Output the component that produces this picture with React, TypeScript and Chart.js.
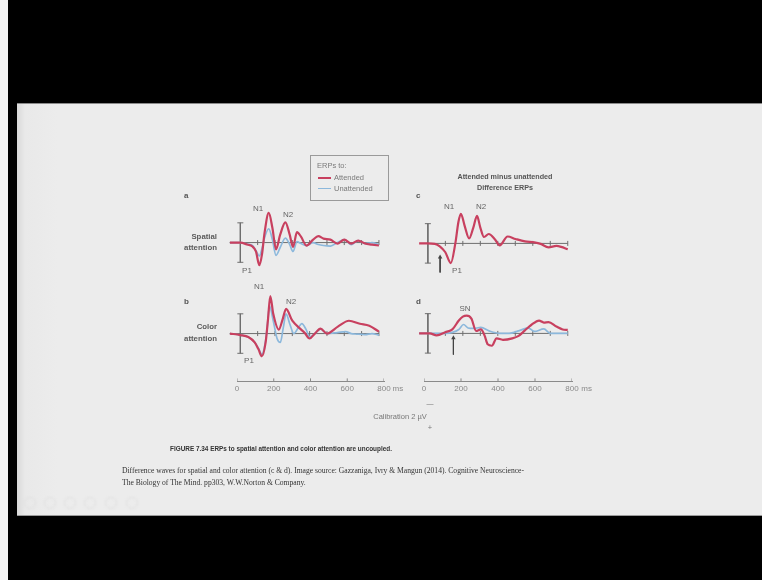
import React, { useEffect, useRef } from "react";
import { Chart, registerables } from "chart.js";
Chart.register(...registerables);

// ---------------- data (ms, µV; negative plotted upward) ----------------
const timesA = [-60, 0, 40, 70, 90, 110, 125, 140, 164, 185, 206, 230, 260, 285, 304, 327, 350, 382, 420, 450, 480, 520, 560, 600, 640, 680, 720, 760, 800];
const spatialAttended = [0, 0, 0.2, 0.4, 0.9, 2.3, 1.2, -1.0, -3.0, -1.5, 0.7, -0.8, -2.05, -0.8, 0.45, -1.05, -0.6, 0.3, -0.3, -0.65, -0.4, -0.3, 0.1, -0.3, 0.1, -0.2, 0.1, 0.2, 0.3];
const spatialUnattended = [0, 0, 0.15, 0.3, 0.8, 1.35, 0.6, -0.5, -1.4, -0.3, 1.3, 0.5, -0.45, 0.2, 0.9, -0.1, 0.1, 0.3, 0.0, 0.2, 0.3, 0.35, 0.0, -0.3, 0.2, -0.2, 0.1, 0.0, 0.2];

const timesB = [-60, 0, 46, 83, 105, 124, 146, 160, 173, 190, 222, 245, 264, 300, 345, 370, 400, 430, 463, 500, 563, 627, 690, 744, 800];
const colorAttended = [0, 0.15, 0.35, 0.9, 1.6, 2.3, 0.9, -1.5, -3.8, -2.0, -0.4, -1.5, -2.5, -1.3, -0.5, -0.1, 0.5, 0.0, -0.5, 0.0, -0.7, -1.3, -1.0, -0.8, -0.2];
const timesBU = [-60, 0, 46, 83, 105, 124, 146, 155, 168, 190, 212, 231, 248, 264, 285, 309, 335, 355, 380, 400, 430, 463, 500, 560, 607, 640, 672, 720, 760, 800];
const colorUnattended = [0, 0.15, 0.35, 0.9, 1.5, 2.1, 0.7, -0.6, -2.8, -1.3, 0.5, 0.9, -0.6, -2.0, -1.0, 0.0, -0.6, -1.0, -0.4, 0.35, 0.0, -0.45, 0.0, -0.1, -0.2, 0.0, 0.05, 0.1, 0.0, 0.15];

const timesC = [-50, 0, 40, 68, 100, 131, 157, 175, 189, 210, 236, 260, 281, 300, 321, 348, 384, 411, 456, 501, 555, 609, 645, 690, 735, 762, 800];
const spatialDifference = [0, 0, 0.05, 0.3, 0.9, 2.0, 0, -2.2, -3.0, -1.8, -0.5, -1.6, -2.8, -1.6, -0.65, -0.95, -0.4, 0.2, -0.7, -0.45, -0.2, -0.1, 0.05, 0.4, 0.26, 0.35, 0.6];

const timesDA = [-50, 11, 50, 104, 140, 177, 200, 222, 249, 276, 303, 324, 342, 366, 393, 429, 483, 519, 555, 591, 636, 663, 690, 735, 771, 800];
const colorDifference = [0, 0, 0.2, -0.15, -0.4, -1.3, -1.7, -1.8, -1.5, -0.25, -0.4, 0.2, 1.1, 1.25, 0.5, 0.65, 0.5, 0.25, -0.3, -0.85, -1.3, -1.1, -1.15, -0.7, -0.4, -0.35];
const timesDU = [-50, 11, 104, 140, 177, 204, 230, 260, 303, 350, 411, 465, 519, 573, 610, 663, 700, 750, 800];
const colorDifferenceBlue = [0, 0, 0, -0.1, -0.4, -0.9, -0.55, -0.5, -0.6, -0.25, 0, 0, -0.25, -0.55, -0.2, -0.45, 0, 0, 0];

const baselineTicks = [100, 200, 300, 400, 500, 600, 700, 800];
const axisTicks = [0, 200, 400, 600, 800];
const calibration = [-2, 2];

// ---------------- styling / layout ----------------
const RED = "#c8405f";
const BLUE = "#8cb8dc";
const GRAY = "#6e6e6e";
const PX_UV = 11;
const SANS = "'Liberation Sans', Arial, sans-serif";
const SERIF = "'Liberation Serif', 'Times New Roman', serif";
const TOOLBAR_X = [30, 50, 70, 90, 111, 132];

type Series = { t: number[]; v: number[]; color: string; width: number };

function Panel(props: {
  x0: number; y0: number; pxMs: number; series: Series[]; baseStart: number;
  arrowT?: number; arrowV?: number[];
}) {
  const ref = useRef<HTMLCanvasElement>(null);
  useEffect(() => {
    const { x0, y0, pxMs, series, baseStart, arrowT, arrowV } = props;
    const canvas = ref.current!;
    const left = Math.round(x0 - 110 * pxMs);
    const width = Math.round(950 * pxMs);
    const xMin = (left - x0) / pxMs;
    const xMax = xMin + width / pxMs;
    const top = Math.round(y0 - 5.2 * PX_UV);
    const height = Math.round(8.8 * PX_UV);
    const yMin = (top - y0) / PX_UV;
    const yMax = yMin + height / PX_UV;
    canvas.width = width; canvas.height = height;
    canvas.style.left = left + "px"; canvas.style.top = top + "px";
    canvas.style.width = width + "px"; canvas.style.height = height + "px";

    const datasets: any[] = series.map((s) => ({
      data: s.t.map((t, i) => ({ x: t, y: s.v[i] })),
      borderColor: s.color, borderWidth: s.width, pointRadius: 0,
      cubicInterpolationMode: "monotone", fill: false,
    }));
    if (arrowT !== undefined && arrowV) {
      datasets.push({
        data: [{ x: arrowT, y: arrowV[0] }, { x: arrowT, y: arrowV[1] }],
        borderColor: "#444", borderWidth: 1, pointStyle: "triangle",
        pointRadius: [2.6, 0], pointBackgroundColor: "#444", pointBorderColor: "#444", pointBorderWidth: 0,
      });
    }
    datasets.push({
      data: calibration.map((v) => ({ x: 0, y: v })),
      borderColor: GRAY, borderWidth: 1, pointStyle: "line", pointRadius: 3,
      pointBorderColor: GRAY, pointBorderWidth: 1,
    });
    datasets.push({
      data: baselineTicks.map((t) => ({ x: t, y: 0 })),
      showLine: false, pointStyle: "line", pointRotation: 90, pointRadius: 2.5,
      pointBorderColor: GRAY, pointBorderWidth: 1,
    });
    datasets.push({
      data: [{ x: baseStart, y: 0 }, { x: 800, y: 0 }],
      borderColor: GRAY, borderWidth: 1, pointRadius: 0,
    });

    const chart = new Chart(canvas, {
      type: "line",
      data: { datasets },
      options: {
        responsive: false, animation: false, events: [],
        layout: { padding: 0 },
        plugins: { legend: { display: false }, tooltip: { enabled: false } },
        scales: {
          x: { type: "linear", display: false, min: xMin, max: xMax },
          y: { type: "linear", display: false, min: yMin, max: yMax, reverse: true },
        },
      },
    } as any);
    return () => chart.destroy();
  }, []);
  return <canvas ref={ref} style={{ position: "absolute" }} />;
}

function TimeAxis(props: { x0: number; pxMs: number; y: number }) {
  const ref = useRef<HTMLCanvasElement>(null);
  useEffect(() => {
    const { x0, pxMs, y } = props;
    const canvas = ref.current!;
    const pad = 14;
    const w = Math.round(800 * pxMs) + 2 * pad;
    const h = 44;
    canvas.width = w; canvas.height = h;
    canvas.style.width = w + "px"; canvas.style.height = h + "px";
    canvas.style.left = Math.round(x0) - pad + "px";
    const tickData: any[] = [];
    axisTicks.forEach((t) => { tickData.push({ x: t, y: 0 }, { x: t, y: 1 }, { x: t, y: null }); });
    const chart = new Chart(canvas, {
      type: "line",
      data: { datasets: [{ data: tickData, borderColor: "#8a8a8a", borderWidth: 1, pointRadius: 0, spanGaps: false }] },
      options: {
        responsive: false, animation: false, events: [],
        layout: { padding: { left: pad, right: pad, top: 2, bottom: 0 } },
        plugins: { legend: { display: false }, tooltip: { enabled: false } },
        scales: {
          x: {
            type: "linear", min: 0, max: 800,
            afterBuildTicks: (s: any) => { s.ticks = axisTicks.map((v) => ({ value: v })); },
            ticks: { autoSkip: false, maxRotation: 0, padding: 3, color: "#8a8a8a", font: { size: 8, family: SANS } },
            grid: { display: false, drawTicks: false },
            border: { display: true, color: "#8a8a8a", width: 1 },
          },
          y: { display: false, min: 0, max: 1 },
        },
      },
    } as any);
    const areaH = chart.chartArea.bottom - chart.chartArea.top;
    (chart.options as any).scales.y.max = areaH / 3;
    chart.update();
    canvas.style.top = Math.round(y - chart.chartArea.bottom) + "px";
    return () => chart.destroy();
  }, []);
  return <canvas ref={ref} style={{ position: "absolute" }} />;
}

function T(props: { x: number; y: number; text: string; size?: number; weight?: number; color?: string; align?: "left" | "center" | "right"; family?: string }) {
  const { x, y, text, size = 8, weight = 400, color = "#666", align = "left", family = SANS } = props;
  const tx = align === "left" ? "0" : align === "center" ? "-50%" : "-100%";
  return (
    <span style={{
      position: "absolute", left: x, top: y, transform: `translate(${tx}, -50%)`, whiteSpace: "nowrap",
      fontFamily: family, fontSize: size, fontWeight: weight, color, lineHeight: 1,
    }}>{text}</span>
  );
}

const LX0 = 236.5, LPX = 0.18375;
const RX0 = 424, RPX = 0.1854;

export default function App() {
  useEffect(() => { document.body.style.margin = "0"; }, []);
  return (
    <div style={{ position: "relative", width: 762, height: 580, background: "#000", overflow: "hidden" }}>
      <div style={{ position: "absolute", left: 0, top: 0, width: 8, height: 580, background: "#f4f4f4" }} />
      <div style={{
        position: "absolute", left: 17, top: 103, width: 745, height: 411,
        background: "linear-gradient(to right, #d9d9d9 0px, #e9e9e9 8px, #ececec 40px)",
        borderTop: "1px solid #8a8a8a", borderBottom: "1px solid #9a9a9a",
      }} />
      {TOOLBAR_X.map((x) => (
        <div key={x} style={{
          position: "absolute", left: x - 6, top: 497, width: 12, height: 12, borderRadius: 6,
          border: "1px solid #dedede", boxSizing: "border-box", filter: "blur(0.8px)",
        }} />
      ))}
      <div style={{ position: "absolute", left: 0, top: 0, width: 762, height: 580, filter: "blur(0.45px)" }}>
        {/* legend */}
        <div style={{ position: "absolute", left: 310, top: 155, width: 77, height: 44, border: "1px solid #9a9a9a" }} />
        <T x={317} y={166} text="ERPs to:" size={7.5} color="#7a7a7a" />
        <div style={{ position: "absolute", left: 318, top: 177, width: 13, height: 1.6, background: RED }} />
        <T x={334} y={177.5} text="Attended" size={7.5} color="#7a7a7a" />
        <div style={{ position: "absolute", left: 318, top: 188, width: 13, height: 1.4, background: BLUE }} />
        <T x={334} y={188.5} text="Unattended" size={7.5} color="#7a7a7a" />

        <T x={505} y={176.5} text="Attended minus unattended" size={7.2} weight={700} color="#555" align="center" />
        <T x={505} y={187.5} text="Difference ERPs" size={7.2} weight={700} color="#555" align="center" />

        <T x={184} y={196} text="a" size={8} weight={700} color="#555" />
        <T x={416} y={196} text="c" size={8} weight={700} color="#555" />
        <T x={184} y={302} text="b" size={8} weight={700} color="#555" />
        <T x={416} y={302} text="d" size={8} weight={700} color="#555" />

        <T x={217} y={237} text="Spatial" size={7.8} weight={700} color="#5a5a5a" align="right" />
        <T x={217} y={248} text="attention" size={7.8} weight={700} color="#5a5a5a" align="right" />
        <T x={217} y={327} text="Color" size={7.8} weight={700} color="#5a5a5a" align="right" />
        <T x={217} y={339} text="attention" size={7.8} weight={700} color="#5a5a5a" align="right" />

        <T x={258} y={209} text="N1" size={8} align="center" />
        <T x={288} y={215} text="N2" size={8} align="center" />
        <T x={247} y={271} text="P1" size={8} align="center" />
        <T x={449} y={207} text="N1" size={8} align="center" />
        <T x={481} y={207} text="N2" size={8} align="center" />
        <T x={457} y={271} text="P1" size={8} align="center" />
        <T x={259} y={287} text="N1" size={8} align="center" />
        <T x={291} y={302} text="N2" size={8} align="center" />
        <T x={249} y={361} text="P1" size={8} align="center" />
        <T x={465} y={309} text="SN" size={8} align="center" />

        <Panel x0={LX0} y0={243.5} pxMs={LPX} baseStart={-62}
          series={[{ t: timesA, v: spatialAttended, color: RED, width: 2.2 }, { t: timesA, v: spatialUnattended, color: BLUE, width: 1.7 }]} />
        <Panel x0={LX0} y0={334.5} pxMs={LPX} baseStart={-62}
          series={[{ t: timesB, v: colorAttended, color: RED, width: 2.2 }, { t: timesBU, v: colorUnattended, color: BLUE, width: 1.7 }]} />
        <Panel x0={RX0} y0={244.3} pxMs={RPX} baseStart={-45} arrowT={70} arrowV={[1.4, 2.95]}
          series={[{ t: timesC, v: spatialDifference, color: RED, width: 2.2 }]} />
        <Panel x0={RX0} y0={334.3} pxMs={RPX} baseStart={-50} arrowT={146} arrowV={[0.45, 2.15]}
          series={[{ t: timesDA, v: colorDifference, color: RED, width: 2.2 }, { t: timesDU, v: colorDifferenceBlue, color: BLUE, width: 1.7 }]} />

        <TimeAxis x0={LX0} pxMs={LPX} y={381} />
        <TimeAxis x0={RX0} pxMs={RPX} y={381} />
        <T x={LX0 + 800 * LPX + 9} y={389} text="ms" size={8} color="#8a8a8a" />
        <T x={RX0 + 800 * RPX + 9} y={389} text="ms" size={8} color="#8a8a8a" />

        <T x={430} y={403} text="—" size={7} color="#777" align="center" />
        <T x={400} y={416.5} text="Calibration 2 µV" size={7.5} color="#777" align="center" />
        <T x={430} y={428} text="+" size={7.5} color="#777" align="center" />

        <T x={170} y={449} text="FIGURE 7.34 ERPs to spatial attention and color attention are uncoupled." size={6.4} weight={700} color="#333" />
        <T x={122} y={471} text="Difference waves for spatial and color attention (c & d). Image source: Gazzaniga, Ivry & Mangun (2014). Cognitive Neuroscience-" size={7.6} color="#333" family={SERIF} />
        <T x={122} y={482.5} text="The Biology of The Mind. pp303, W.W.Norton & Company." size={7.6} color="#333" family={SERIF} />
      </div>
    </div>
  );
}
